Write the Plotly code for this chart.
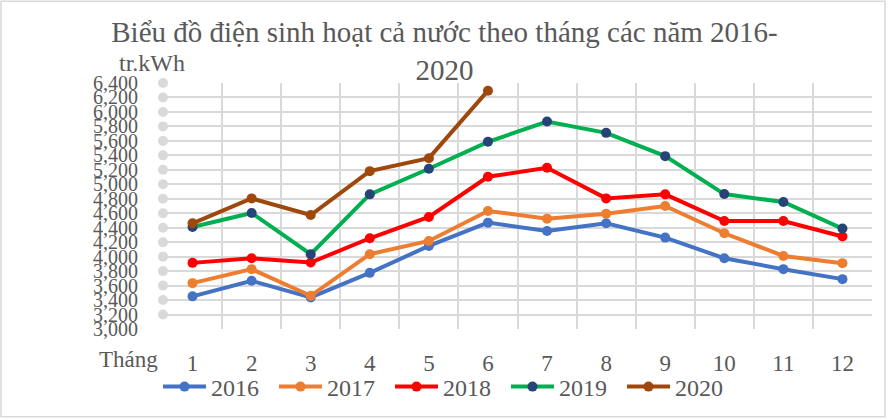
import plotly.graph_objects as go

# Điện sinh hoạt cả nước theo tháng (triệu kWh)
months = [1, 2, 3, 4, 5, 6, 7, 8, 9, 10, 11, 12]
y2016 = [3451, 3666, 3437, 3776, 4148, 4470, 4355, 4461, 4263, 3978, 3827, 3689]
y2017 = [3634, 3827, 3459, 4034, 4217, 4631, 4525, 4594, 4700, 4323, 4010, 3910]
y2018 = [3914, 3978, 3919, 4254, 4548, 5104, 5228, 4805, 4861, 4493, 4493, 4278]
y2019 = [4410, 4603, 4034, 4861, 5215, 5587, 5867, 5711, 5389, 4865, 4755, 4388]
y2020 = [4461, 4805, 4575, 5182, 5361, 6294]
y_ticks = list(range(3000, 6401, 200))

FONT = "Liberation Serif"
TXT = "#595959"
GRID = "#d9d9d9"

W, H = 889, 420
L, R, T, B = 163, 17, 83, 90
pw, ph = W - L - R, H - T - B

fig = go.Figure()

# grey round ticks along the value axis
fig.add_trace(go.Scatter(
    x=[0.5] * (len(y_ticks) - 1), y=y_ticks[1:], mode="markers",
    marker=dict(size=10, color=GRID), showlegend=False,
    hoverinfo="skip", cliponaxis=False))

series = [
    ("2016", y2016, "#4472C4", "#4472C4"),
    ("2017", y2017, "#ED7D31", "#ED7D31"),
    ("2018", y2018, "#FF0000", "#FF0000"),
    ("2019", y2019, "#00B050", "#264478"),
    ("2020", y2020, "#9E480E", "#9E480E"),
]
for name, vals, lc, mc in series:
    fig.add_trace(go.Scatter(
        x=months[:len(vals)], y=vals, name=name, mode="lines+markers",
        line=dict(color=lc, width=4),
        marker=dict(color=mc, size=10, line=dict(color=mc, width=0)),
        cliponaxis=False))

fig.update_layout(
    width=W, height=H,
    margin=dict(l=L, r=R, t=T, b=B),
    paper_bgcolor="white", plot_bgcolor="white",
    font=dict(family=FONT, color=TXT),
    title=dict(text="Biểu đồ điện sinh hoạt cả nước theo tháng các năm 2016-<br>2020",
               x=0.5, xref="container", xanchor="center",
               y=0.9, yref="container", yanchor="top",
               font=dict(size=29, family=FONT, color=TXT)),
    xaxis=dict(range=[0.5, 12.5], tickvals=months, showgrid=False,
               zeroline=False, showline=False, ticks="",
               tickfont=dict(size=23, family=FONT, color=TXT),
               ticklabelstandoff=18,
               minor=dict(tick0=0.5, dtick=1, showgrid=True,
                          gridcolor=GRID, gridwidth=2, ticks="")),
    yaxis=dict(range=[3000, 6400], tickvals=y_ticks, tickformat=",d",
               showgrid=True, gridcolor=GRID, gridwidth=2,
               zeroline=False, showline=False, ticks="",
               tickfont=dict(size=20, family=FONT, color=TXT),
               ticklabelstandoff=24),
    legend=dict(orientation="h", x=(158 - L) / pw, xanchor="left",
                y=(T + ph - 387) / ph, yanchor="middle",
                font=dict(size=24, family=FONT, color=TXT),
                itemwidth=43, entrywidth=58, tracegroupgap=0,
                bgcolor="rgba(0,0,0,0)"),
    annotations=[
        dict(text="tr.kWh", x=(152 - L) / pw, y=(T + ph - 63) / ph,
             xref="paper", yref="paper", showarrow=False,
             xanchor="center", yanchor="middle",
             font=dict(size=24, family=FONT, color=TXT)),
        dict(text="Tháng", x=(128 - L) / pw, y=(T + ph - 361) / ph,
             xref="paper", yref="paper", showarrow=False,
             xanchor="center", yanchor="middle",
             font=dict(size=23, family=FONT, color=TXT)),
    ],
    shapes=[dict(type="rect", xref="paper", yref="paper",
                 x0=(1 - L) / pw, x1=(885 - L) / pw,
                 y0=(T + ph - 418) / ph, y1=(T + ph - 1) / ph,
                 line=dict(color=GRID, width=1.5), layer="below")],
)

fig.write_html("out.html", config={"displayModeBar": False},
               post_script="document.body.style.margin='0';")
